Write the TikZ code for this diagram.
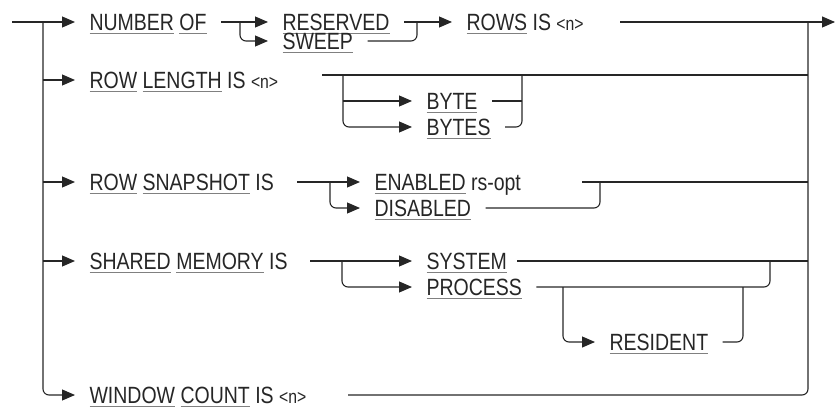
\documentclass[tikz,border=0pt]{standalone}
\usepackage{fontspec}
\setmainfont{Liberation Sans}[FakeStretch=0.83]
\usetikzlibrary{arrows.meta}
\newcommand\kw[1]{\sbox0{#1}\rlap{\color{black!50}\rule[-4pt]{\wd0}{1pt}}\usebox0}
\newcommand\argn{{\fontsize{19}{19}\selectfont<n>}}
\begin{document}
\begin{tikzpicture}[
    x=1pt, y=-1pt,
    line width=1.1pt, color=black!85,
    every node/.style={anchor=west,inner xsep=14pt,inner ysep=0pt,
      text height=16.8pt,text depth=0pt,font=\fontsize{23.5}{28}\selectfont},
    arr/.style={-{Triangle[length=13pt,width=11pt]}},
    rnd/.style={rounded corners=6pt}
  ]
    \useasboundingbox (0,0) rectangle (835,409);
    \node (num) at (75,22) {\kw{NUMBER} \kw{OF}};
    \node (res) at (268,22) {\kw{RESERVED}};
    \node (swp) at (268,41) {\kw{SWEEP}};
    \node (rows) at (452,22) {\kw{ROWS} IS \argn};
    \node (len) at (75,80) {\kw{ROW} \kw{LENGTH} IS \argn};
    \node (byte) at (412,101) {\kw{BYTE}};
    \node (bytes) at (412,127) {\kw{BYTES}};
    \node (snap) at (75,182) {\kw{ROW} \kw{SNAPSHOT} IS};
    \node (en) at (360,182) {\kw{ENABLED} rs-opt};
    \node (dis) at (360,208) {\kw{DISABLED}};
    \node (shm) at (75,261) {\kw{SHARED} \kw{MEMORY} IS};
    \node (sys) at (412,261) {\kw{SYSTEM}};
    \node (proc) at (412,287) {\kw{PROCESS}};
    \node (resid) at (595,342) {\kw{RESIDENT}};
    \node (win) at (75,395) {\kw{WINDOW} \kw{COUNT} IS \argn};

    \coordinate (in) at (12,22);
    \coordinate (lt) at (43,22);
    \coordinate (rt) at (808,22);
    \coordinate (out) at (835,22);
    \coordinate (j1) at (240,22);
    \coordinate (j2) at (417,22);
    \coordinate (rowsE) at (620,22);
    \coordinate (lenE) at (322,75);
    \coordinate (j3) at (343,75);
    \coordinate (j4) at (522,75);
    \coordinate (snapE) at (297,182);
    \coordinate (j5) at (330,182);
    \coordinate (enE) at (582,182);
    \coordinate (j6) at (600,182);
    \coordinate (shmE) at (310,261);
    \coordinate (j7) at (342,261);
    \coordinate (sysE) at (517,261);
    \coordinate (j8) at (563,287);
    \coordinate (j9) at (770,261);
    \coordinate (j10) at (743,287);
    \coordinate (winE) at (348,395);

    \draw[arr] (in) -- (num);
    \draw[arr] (num) -- (res);
    \draw[arr,rnd] (j1) |- (swp);
    \draw[arr] (res) -- (rows);
    \draw[rnd] (swp) -| (j2);
    \draw[arr] (rowsE) -- (out);

    \draw[arr] (lt |- len) -- (len);
    \draw (lenE) -- (rt |- lenE);
    \draw[arr] (j3 |- byte) -- (byte);
    \draw[arr,rnd] (j3) |- (bytes);
    \draw (byte) -- (j4 |- byte);
    \draw[rnd] (bytes) -| (j4);

    \draw[arr] (lt |- snap) -- (snap);
    \draw[arr] (snapE) -- (en);
    \draw[arr,rnd] (j5) |- (dis);
    \draw (enE) -- (rt |- enE);
    \draw[rnd] (dis) -| (j6);

    \draw[arr] (lt |- shm) -- (shm);
    \draw[arr] (shmE) -- (sys);
    \draw[arr,rnd] (j7) |- (proc);
    \draw (sysE) -- (rt |- sysE);
    \draw[rnd] (proc) -| (j9);
    \draw[arr,rnd] (j8) |- (resid);
    \draw[rnd] (resid) -| (j10);

    \draw[arr,rnd] (lt) |- (win);
    \draw[rnd] (winE) -| (rt);
\end{tikzpicture}
\end{document}
